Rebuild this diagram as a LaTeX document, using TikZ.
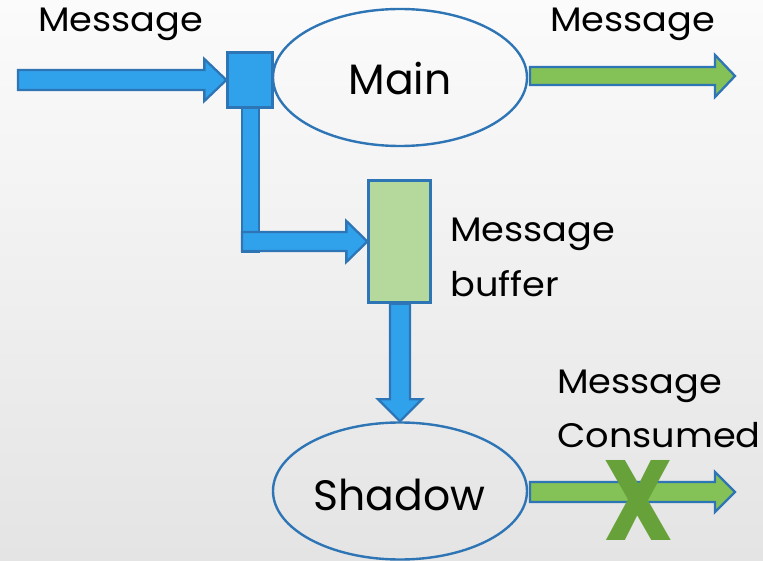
\documentclass[tikz,border=0pt]{standalone}
\usepackage{fontspec}
\setmainfont{Poppins}
\newfontfamily\labelfont[FakeStretch=1.08]{Poppins}
\usetikzlibrary{shapes.geometric,calc}
\definecolor{bgtop}{HTML}{FBFBFB}
\definecolor{bgbot}{HTML}{E4E4E4}
\definecolor{edge}{HTML}{2E75B6}
\definecolor{flowblue}{HTML}{30A2EC}
\definecolor{flowgreen}{HTML}{84C156}
\definecolor{buffergreen}{HTML}{B5D99C}
\definecolor{crossgreen}{HTML}{67A13A}

% horizontal block arrow: start, tip, shaft half-width, head half-width, head length, style
\newcommand\harrow[6]{%
  \draw[#6] let \p1=(#1), \p2=(#2) in
    (\x1,\y2+#3) -- (\x2-#5,\y2+#3) -- (\x2-#5,\y2+#4) -- (\x2,\y2)
    -- (\x2-#5,\y2-#4) -- (\x2-#5,\y2-#3) -- (\x1,\y2-#3) -- cycle;}
% downward block arrow: start, tip, shaft half-width, head half-width, head length, style
\newcommand\varrow[6]{%
  \draw[#6] let \p1=(#1), \p2=(#2) in
    (\x2-#3,\y1) -- (\x2-#3,\y2+#5) -- (\x2-#4,\y2+#5) -- (\x2,\y2)
    -- (\x2+#4,\y2+#5) -- (\x2+#3,\y2+#5) -- (\x2+#3,\y1) -- cycle;}

\tikzset{
  blueflow/.style={fill=flowblue,draw=edge,line width=2.3pt,line join=miter},
  greenflow/.style={fill=flowgreen,draw=edge,line width=2.3pt,line join=miter},
  process/.style={ellipse,draw=edge,line width=2.4pt,inner sep=0pt,
    minimum width=254pt,minimum height=137pt},
  label/.style={anchor=base west,inner sep=0pt,font=\labelfont\fontsize{34}{34}\selectfont},
  title/.style={anchor=base,inner sep=0pt,font=\fontsize{42.5}{42.5}\selectfont},
}

\begin{document}
\begin{tikzpicture}[x=1pt,y=-1pt]
  % backdrop
  \shade[top color=bgtop,bottom color=bgbot] (0,0) rectangle (763,561);
  \useasboundingbox (0,0) rectangle (763,561);

  % processes
  \node[process] (main) at (400,77.5) {};
  \node[process] (shadow) at (400,491) {};
  \node[title] (maintext) at (400,95) {Main};
  \node[title] (shadowtext) at (399.5,510) {Shadow};

  % splitter and buffer
  \node[draw=edge,fill=flowblue,line width=2.3pt,minimum width=45pt,
        minimum height=55pt,inner sep=0pt] (split) at (250,80) {};
  \node[draw=edge,fill=buffergreen,line width=2.3pt,minimum width=62pt,
        minimum height=122pt,inner sep=0pt] (buffer) at (399.5,241.5) {};

  % incoming message
  \coordinate (inStart) at (18,79);
  \harrow{inStart}{split.west}{10}{21}{22}{blueflow}

  % copy to the buffer
  \draw[blueflow] (242,108) rectangle (259,252);
  \coordinate (copyStart) at (242,242.5);
  \harrow{copyStart}{buffer.west}{9.5}{20.5}{21}{blueflow}

  % buffer feeds the shadow
  \varrow{buffer.south}{shadow.north}{10}{22}{22}{blueflow}

  % outputs
  \coordinate (outStart) at (530,76);
  \coordinate (outTip) at (735,76);
  \harrow{outStart}{outTip}{9}{21}{20}{greenflow}
  \coordinate (shStart) at (530,492);
  \coordinate (shTip) at (735,492);
  \harrow{shStart}{shTip}{10}{20}{20}{greenflow}

  % labels
  \node[label] (msgin) at (38,32) {Message};
  \node[label] (msgout) at (550,32) {Message};
  \node[label] (buf1) at (450,242) {Message};
  \node[label] (buf2) at (450,297) {buffer};
  \node[label] (con1) at (557,393) {Message};
  \node[label] (con2) at (557,447) {Consumed};

  % dropped output
  \node[anchor=base,inner sep=0pt,text=crossgreen,
        font=\fontsize{114}{114}\selectfont\bfseries]
    (cross) at (639,540) {\scalebox{0.86}[1]{X}};
\end{tikzpicture}
\end{document}
